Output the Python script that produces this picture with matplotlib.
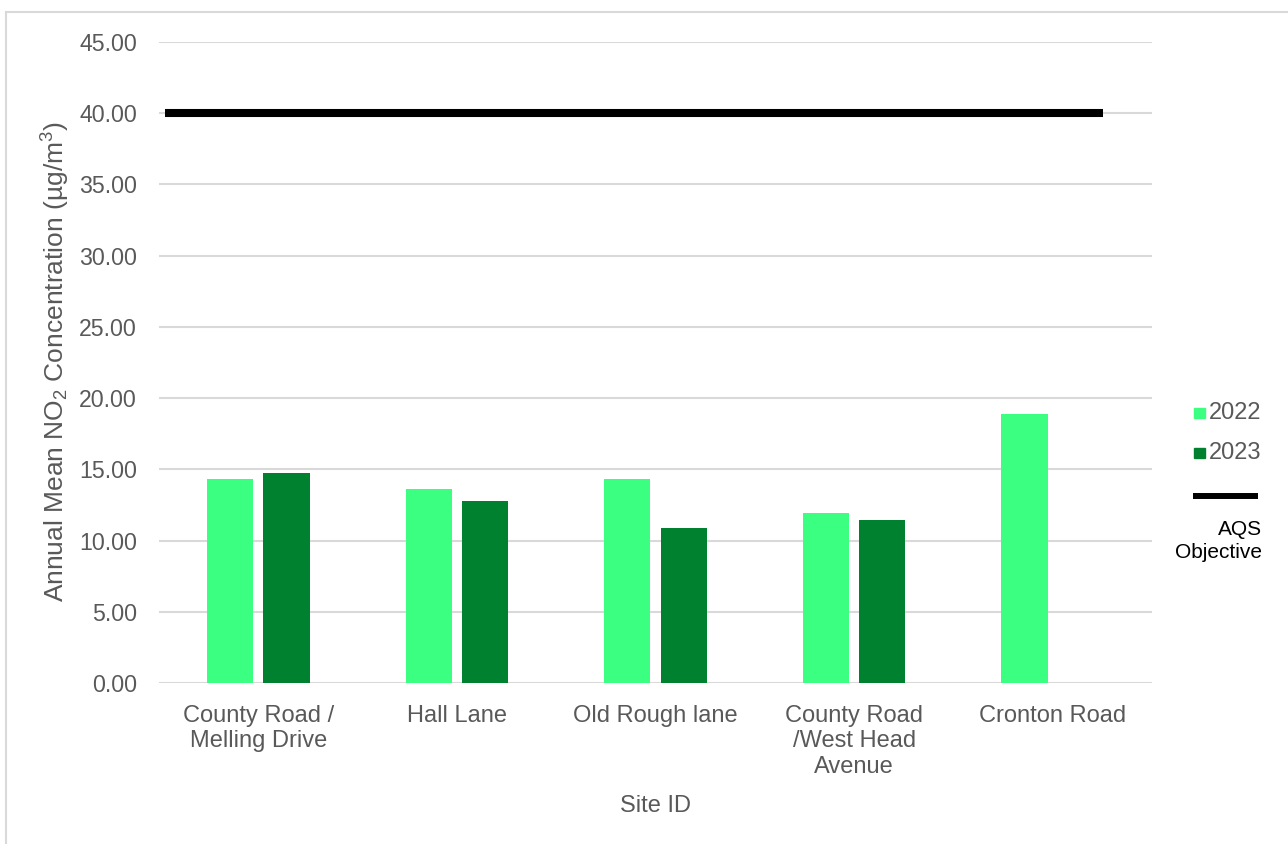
import matplotlib
matplotlib.use("Agg")
import matplotlib.pyplot as plt
import numpy as np
from matplotlib.lines import Line2D
from matplotlib.patches import Rectangle

# Annual mean NO2 by diffusion-tube site
sites = ["County Road /\nMelling Drive", "Hall Lane", "Old Rough lane",
         "County Road\n/West Head\nAvenue", "Cronton Road"]
no2_2022 = [14.34, 13.62, 14.30, 11.93, 18.85]
no2_2023 = [14.76, 12.75, 10.90, 11.44, np.nan]
aqs_objective = 40.0
y_ticks = [0, 5, 10, 15, 20, 25, 30, 35, 40, 45]
series_labels = ["2022", "2023"]

TEXT = "#595959"
GRID = "#d9d9d9"
C2022 = "#3bff80"
C2023 = "#00812f"

plt.rcParams["font.family"] = ["Liberation Sans", "DejaVu Sans"]
plt.rcParams["mathtext.fontset"] = "custom"
plt.rcParams["mathtext.rm"] = "Liberation Sans"
plt.rcParams["mathtext.it"] = "Liberation Sans:italic"
plt.rcParams["mathtext.bf"] = "Liberation Sans:bold"

W, H = 1288, 844
fig = plt.figure(figsize=(W / 100, H / 100), dpi=100)
fig.patch.set_facecolor("white")

# plot area in pixel terms
left, right, top, bottom = 159, 1152, 42, 683
ax = fig.add_axes([left / W, 1 - bottom / H, (right - left) / W, (bottom - top) / H])

x = np.arange(len(sites))
bw = 0.232
off = 0.142
v22 = np.array(no2_2022, dtype=float)
v23 = np.array(no2_2023, dtype=float)
ax.bar(x - off, v22, width=bw, color=C2022, zorder=3, label=series_labels[0])
m = ~np.isnan(v23)
ax.bar(x[m] + off, v23[m], width=bw, color=C2023, zorder=3, label=series_labels[1])

# objective line
ax.axhline(aqs_objective, xmin=0.006, xmax=0.951, color="black", lw=5.8,
           solid_capstyle="butt", zorder=4)

ax.set_xlim(-0.5, len(sites) - 0.5)
ax.set_ylim(0, 45)
ax.set_yticks(y_ticks)
ax.set_yticklabels([f"{t:.2f}" for t in y_ticks])
ax.set_xticks(x)
ax.set_xticklabels(sites, linespacing=1.22)
ax.yaxis.grid(True, color=GRID, lw=1.5, zorder=0)
ax.set_axisbelow(True)
for s in ax.spines.values():
    s.set_visible(False)
ax.tick_params(axis="both", length=0, colors=TEXT)
ax.tick_params(axis="y", pad=16, labelsize=16.7)
ax.tick_params(axis="x", pad=15.5, labelsize=17)

ax.set_xlabel("Site ID", fontsize=17, color=TEXT, va="center")
ax.xaxis.set_label_coords(0.5, (bottom - 806) / (bottom - top))
ax.set_ylabel("Annual Mean NO$_2$ Concentration (\u00b5g/m$^3$)", fontsize=19,
              color=TEXT, va="center")
ax.yaxis.set_label_coords((56 - left) / (right - left), (bottom - 362) / (bottom - top))

# legend, laid out in pixel coordinates on the right
def fx(px):
    return px / W

def fy(py):
    return 1 - py / H

for col, lab, cy in [(C2022, series_labels[0], 413), (C2023, series_labels[1], 453)]:
    fig.patches.append(Rectangle((fx(1194), fy(cy + 5)), 11 / W, 10 / H,
                                 transform=fig.transFigure, color=col))
    fig.text(fx(1209), fy(cy), lab, fontsize=17, color=TEXT, va="center", ha="left")
fig.lines.append(Line2D([fx(1193), fx(1258)], [fy(495.5), fy(495.5)], color="black",
                        lw=4.3, solid_capstyle="butt", transform=fig.transFigure))
fig.text(fx(1262), fy(541), "AQS\nObjective", fontsize=15, color="black",
         ha="right", va="center", multialignment="right", linespacing=1.22)

# chart frame
fig.lines.append(Line2D([fx(6), fx(6)], [fy(12), 0], color=GRID, lw=1.5,
                        transform=fig.transFigure))
fig.lines.append(Line2D([fx(6), 1], [fy(12), fy(12)], color=GRID, lw=1.5,
                        transform=fig.transFigure))

fig.savefig("out.png", dpi=100)
